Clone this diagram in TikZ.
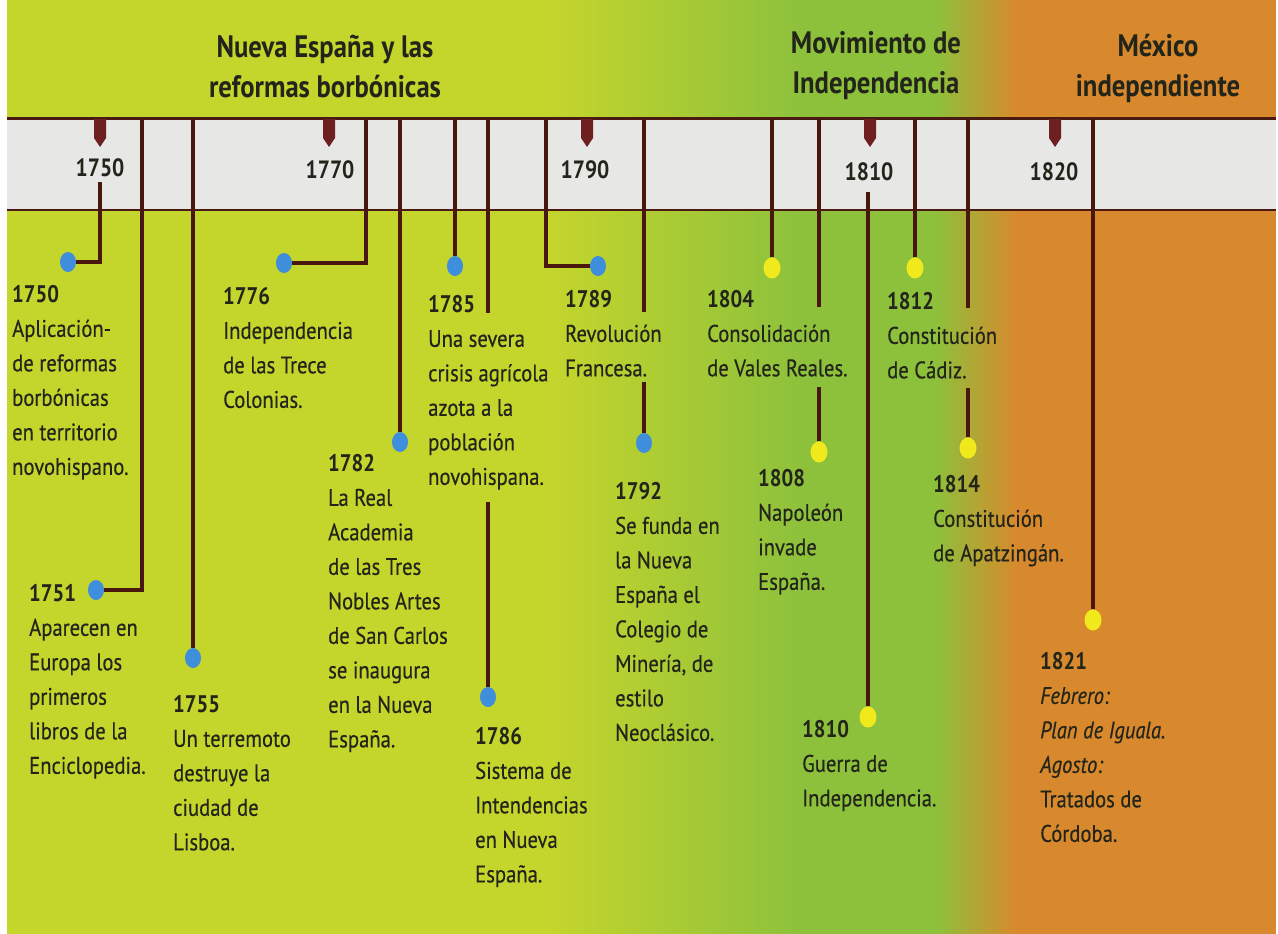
\documentclass[tikz,border=0pt]{standalone}
\usepackage{fontspec}
\setmainfont{PT Sans}[FakeStretch=0.86, UprightFeatures={FakeBold=0.35}, ItalicFeatures={FakeBold=0.35}]
\usetikzlibrary{shapes.geometric}
\definecolor{limec}{HTML}{C4D52C}
\definecolor{greenc}{HTML}{8DC13C}
\definecolor{orangec}{HTML}{D8892D}
\definecolor{bandc}{HTML}{E7E7E5}
\definecolor{borderc}{HTML}{4A1A12}
\definecolor{tickc}{HTML}{6E1F1F}
\definecolor{linec}{HTML}{4A170F}
\definecolor{dotblue}{HTML}{3E8EDB}
\definecolor{dotyellow}{HTML}{F0EA1C}
\definecolor{txt}{HTML}{23241A}
\tikzset{
  conn/.style={draw=linec, line width=3.4pt},
  bdot/.style={ellipse, fill=dotblue, minimum width=16pt, minimum height=20pt, inner sep=0pt},
  ydot/.style={ellipse, fill=dotyellow, minimum width=17pt, minimum height=21pt, inner sep=0pt},
  evtext/.style={anchor=north west, inner sep=0pt, align=left, text=txt, font=\fontsize{24}{34.5}\selectfont},
  yearlbl/.style={inner sep=0pt, text=txt, font=\bfseries\fontsize{25}{25}\selectfont},
  titlelbl/.style={inner sep=0pt, align=center, text=txt, font=\bfseries\fontsize{31}{40}\selectfont},
  tickmark/.style={fill=tickc}
}
\begin{document}
\begin{tikzpicture}[x=1pt,y=-1pt]
\useasboundingbox (0,0) rectangle (1278,934);
% background
\fill[white] (0,0) rectangle (1278,934);
\fill[limec] (7,0) rectangle (552,934);
\shade[left color=limec, right color=greenc] (550,0) rectangle (802,934);
\fill[greenc] (800,0) rectangle (937,934);
\shade[left color=greenc, right color=orangec] (935,0) rectangle (1017,934);
\fill[orangec] (1015,0) rectangle (1276,934);
% band
\fill[bandc] (7,118) rectangle (1276,210);
\draw[borderc, line width=3pt] (7,118) -- (1276,118);
\draw[borderc, line width=2.5pt] (7,210) -- (1276,210);
% tick marks
\foreach \tx in {100,329,587,870,1055}
  \fill[tickmark] (\tx-6,119) -- (\tx+6,119) -- (\tx+6,138) -- (\tx,147) -- (\tx-6,138) -- cycle;
% band labels
\node[yearlbl] (y1750) at (100,168) {1750};
\node[yearlbl] (y1770) at (330,170) {1770};
\node[yearlbl] (y1790) at (585,170) {1790};
\node[yearlbl] (y1810) at (869,172) {1810};
\node[yearlbl] (y1820) at (1054,172) {1820};
% dots
\node[bdot] (d1750) at (68,262) {};
\node[bdot] (d1751) at (96,590) {};
\node[bdot] (d1755) at (193,658) {};
\node[bdot] (d1776) at (284,263) {};
\node[bdot] (d1782) at (400,442) {};
\node[bdot] (d1785) at (455,266) {};
\node[bdot] (d1786) at (488,697) {};
\node[bdot] (d1789) at (598,266) {};
\node[bdot] (d1792) at (644,443) {};
\node[ydot] (d1804) at (772,268) {};
\node[ydot] (d1808) at (819,452) {};
\node[ydot] (d1810) at (868,717) {};
\node[ydot] (d1812) at (915,268) {};
\node[ydot] (d1814) at (968,448) {};
\node[ydot] (d1821) at (1093,620) {};
% connectors
\draw[conn] (100,182) |- (d1750);
\draw[conn] (142,119) |- (d1751);
\draw[conn] (d1755.center |- 0,119) -- (d1755);
\draw[conn] (366,119) |- (d1776);
\draw[conn] (d1782.center |- 0,119) -- (d1782);
\draw[conn] (d1785.center |- 0,119) -- (d1785);
\draw[conn] (d1786.center |- 0,119) -- (d1786.center |- 0,313);
\draw[conn] (d1786.center |- 0,502) -- (d1786);
\draw[conn] (546,119) |- (d1789);
\draw[conn] (d1792.center |- 0,119) -- (d1792.center |- 0,312);
\draw[conn] (d1792.center |- 0,382) -- (d1792);
\draw[conn] (d1804.center |- 0,119) -- (d1804);
\draw[conn] (d1808.center |- 0,119) -- (d1808.center |- 0,307);
\draw[conn] (d1808.center |- 0,387) -- (d1808);
\draw[conn] (d1810.center |- 0,192) -- (d1810);
\draw[conn] (d1812.center |- 0,119) -- (d1812);
\draw[conn] (d1814.center |- 0,119) -- (d1814.center |- 0,308);
\draw[conn] (d1814.center |- 0,388) -- (d1814);
\draw[conn] (d1821.center |- 0,119) -- (d1821);
% event texts
\node[evtext] (t1750) at (12,285) {\textbf{1750}\\Aplicación-\\de reformas\\borbónicas\\en territorio\\novohispano.};
\node[evtext] (t1751) at (29,584) {\textbf{1751}\\Aparecen en\\Europa los\\primeros\\libros de la\\Enciclopedia.};
\node[evtext] (t1755) at (173,695) {\textbf{1755}\\Un terremoto\\destruye la\\ciudad de\\Lisboa.};
\node[evtext] (t1776) at (223,287) {\textbf{1776}\\Independencia\\de las Trece\\Colonias.};
\node[evtext] (t1782) at (328,454) {\textbf{1782}\\La Real\\Academia\\de las Tres\\Nobles Artes\\de San Carlos\\se inaugura\\en la Nueva\\España.};
\node[evtext] (t1785) at (428,295) {\textbf{1785}\\Una severa\\crisis agrícola\\azota a la\\población\\novohispana.};
\node[evtext] (t1786) at (475,727) {\textbf{1786}\\Sistema de\\Intendencias\\en Nueva\\España.};
\node[evtext] (t1789) at (565,290) {\textbf{1789}\\Revolución\\Francesa.};
\node[evtext] (t1792) at (615,482) {\textbf{1792}\\Se funda en\\la Nueva\\España el\\Colegio de\\Minería, de\\estilo\\Neoclásico.};
\node[evtext] (t1804) at (707,290) {\textbf{1804}\\Consolidación\\de Vales Reales.};
\node[evtext] (t1808) at (758,469) {\textbf{1808}\\Napoleón\\invade\\España.};
\node[evtext] (t1810) at (802,720) {\textbf{1810}\\Guerra de\\Independencia.};
\node[evtext] (t1812) at (887,292) {\textbf{1812}\\Constitución\\de Cádiz.};
\node[evtext] (t1814) at (933,475) {\textbf{1814}\\Constitución\\de Apatzingán.};
\node[evtext] (t1821) at (1040,652) {\textbf{1821}\\\textit{Febrero:}\\\textit{Plan de Iguala.}\\\textit{Agosto:}\\Tratados de\\Córdoba.};
% titles
\node[titlelbl] (h1) at (325,67) {Nueva España y las\\reformas borbónicas};
\node[titlelbl] (h2) at (876,66) {Movimiento de\\Independencia};
\node[titlelbl] (h3) at (1158,68) {México\\independiente};
\end{tikzpicture}
\end{document}
